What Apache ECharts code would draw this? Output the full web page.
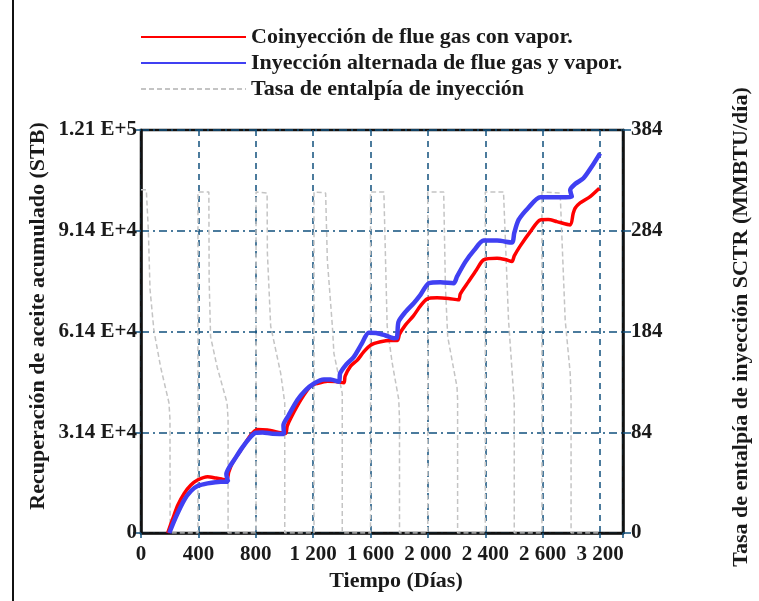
<!DOCTYPE html>
<html>
<head>
<meta charset="utf-8">
<script src="https://cdn.jsdelivr.net/npm/echarts@6/dist/echarts.min.js"></script>
<style>
  html, body { margin: 0; padding: 0; background: #ffffff; }
  #chart { width: 759px; height: 601px; }
</style>
</head>
<body>
<div id="chart"></div>
<script>
// Cumulative oil recovery (STB) vs time (days)
const redDays = [186,223,257,301,348,394,464,522,570,598,612,640,696,765,812,881,974,1009,1019,1044,1113,1183,1229,1299,1357,1414,1423,1461,1508,1551,1600,1670,1739,1788,1802,1844,1899,1948,1995,2064,2143,2214,2226,2282,2338,2388,2482,2539,2586,2602,2644,2713,2783,2838,2899,2992,3012,3026,3061,3131,3195];
const redStb  = [0,4500,8400,11900,14400,15900,16900,16500,16100,15900,18300,21300,24900,29400,31100,30900,30100,29900,32100,34500,39900,44100,44900,45600,45500,45100,47100,50100,51900,54300,56400,57400,57800,57800,59700,62500,65200,68200,70300,70600,70400,70000,71800,75400,79000,82000,82500,82100,81500,83200,86200,90400,94000,94100,93500,92500,95800,97500,99100,101000,103500];

const blueDays = [197,243,301,348,394,464,557,607,595,612,649,703,765,800,849,904,997,993,1030,1090,1148,1206,1275,1322,1380,1388,1433,1484,1537,1588,1647,1704,1762,1784,1795,1844,1901,1948,2006,2087,2180,2203,2261,2324,2388,2482,2586,2602,2632,2699,2783,2899,3003,2992,3026,3084,3145,3200];
const blueStb  = [0,4800,9900,12600,14100,14900,15400,15400,17700,19500,21900,25500,28900,30100,30200,29900,29700,32400,35400,39900,42900,44900,46100,46100,45400,47900,50700,52900,56700,60100,60000,59300,58500,58700,63400,66400,69000,71500,75000,75300,75000,77000,81400,85000,87800,87800,87200,90100,94000,97600,100800,100800,101000,103000,104800,106500,110200,114000];

// Injection enthalpy rate (MMBTU/day)
const rateDays   = [0,37,51,63,90,137,195,202,203,397,397,473,475,485,531,600,607,607,802,802,879,881,904,974,1002,1002,1206,1206,1287,1299,1334,1345,1403,1403,1600,1600,1693,1716,1751,1797,1802,1802,1999,1999,2110,2122,2138,2203,2207,2207,2400,2400,2527,2562,2602,2602,2795,2795,2922,2957,2992,2998,2998,3200];
const rateValues = [327,327,289,232,193,158,124,108,0,0,325,325,241,187,158,124,108,0,0,325,324,267,197,152,124,0,0,325,324,260,197,171,133,0,0,325,325,197,162,127,108,0,0,325,325,235,187,139,127,0,0,325,325,203,124,0,0,325,324,203,152,127,0,0];

// Tick labels
const xTickLabels = ['0','400','800','1 200','1 600','2 000','2 400','2 600','3 200'];
const leftTickLabels = ['0','3.14 E+4','6.14 E+4','9.14 E+4','1.21 E+5'];
const rightTickLabels = ['0','84','184','284','384'];

const seriesNames = ['Coinyección de flue gas con vapor.', 'Inyección alternada de flue gas y vapor.', 'Tasa de entalpía de inyección'];

const zip = (a, b) => a.map((v, i) => [v, b[i]]);

const FONT = "'Liberation Serif', 'Times New Roman', serif";
const TXT = '#1a1a1a';
const GRID_BLUE = '#10507e';
const DASH_DOT = [8, 4, 2, 4];

const chart = echarts.init(document.getElementById('chart'), null, { renderer: 'canvas' });

const labelFrom = (arr, step) => (v) => {
  const k = v / step;
  const i = Math.round(k);
  return Math.abs(k - i) < 1e-6 && arr[i] !== undefined ? arr[i] : '';
};

chart.setOption({
  animation: false,
  backgroundColor: '#ffffff',
  grid: {
    left: 141, right: 136, top: 130, bottom: 68,
    show: true, borderColor: '#111111', borderWidth: 2.5, backgroundColor: 'transparent'
  },
  legend: {
    data: seriesNames,
    orient: 'vertical',
    left: 135, top: 21,
    itemWidth: 105, itemHeight: 14, itemGap: 4,
    itemStyle: { color: 'transparent', borderColor: 'transparent', borderWidth: 0 },
    textStyle: { fontFamily: FONT, fontWeight: 'bold', fontSize: 22, color: TXT }
  },
  xAxis: {
    type: 'value', min: 0, max: 3360, interval: 400,
    axisLine: { show: true, lineStyle: { color: '#111111', width: 2.5 } },
    axisTick: { show: true, length: 8, lineStyle: { color: GRID_BLUE, width: 1.5, type: [5, 4] } },
    splitLine: { show: true, lineStyle: { color: GRID_BLUE, width: 1.5, type: [6, 5] } },
    axisLabel: {
      margin: 11, fontFamily: FONT, fontWeight: 'bold', fontSize: 21, color: TXT,
      formatter: labelFrom(xTickLabels, 400)
    }
  },
  yAxis: [
    {
      type: 'value', min: 0, max: 121000, interval: 30250, position: 'left',
      axisLine: { show: true, lineStyle: { color: '#111111', width: 2.5 } },
      axisTick: { show: true, length: 12, lineStyle: { color: GRID_BLUE, width: 1.5, type: DASH_DOT } },
      splitLine: { show: true, lineStyle: { color: GRID_BLUE, width: 1.5, type: DASH_DOT } },
      axisLabel: {
        margin: 4, fontFamily: FONT, fontWeight: 'bold', fontSize: 21, color: TXT,
        formatter: labelFrom(leftTickLabels, 30250)
      }
    },
    {
      type: 'value', min: 0, max: 384, interval: 96, position: 'right',
      axisLine: { show: true, lineStyle: { color: '#111111', width: 2.5 } },
      axisTick: { show: true, length: 10, lineStyle: { color: GRID_BLUE, width: 1.5, type: DASH_DOT } },
      splitLine: { show: false },
      axisLabel: {
        margin: 8, fontFamily: FONT, fontWeight: 'bold', fontSize: 21, color: TXT,
        formatter: labelFrom(rightTickLabels, 96)
      }
    }
  ],
  series: [
    {
      name: seriesNames[0], type: 'line', yAxisIndex: 0, z: 3,
      data: zip(redDays, redStb), showSymbol: false, symbol: 'none', smooth: 0.25,
      lineStyle: { color: '#ff0000', width: 3.5 }, itemStyle: { color: '#ff0000' }
    },
    {
      name: seriesNames[1], type: 'line', yAxisIndex: 0, z: 4,
      data: zip(blueDays, blueStb), showSymbol: false, symbol: 'none', smooth: 0.25,
      lineStyle: { color: '#4040f2', width: 4.5 }, itemStyle: { color: '#4040f2' }
    },
    {
      name: seriesNames[2], type: 'line', yAxisIndex: 1, z: 2,
      data: zip(rateDays, rateValues), showSymbol: false, symbol: 'none', smooth: false,
      lineStyle: { color: '#c4c4c4', width: 1.5, type: [5, 3] }, itemStyle: { color: '#c4c4c4' }
    }
  ],
  graphic: [
    { type: 'line', shape: { x1: 13, y1: 0, x2: 13, y2: 601 }, style: { stroke: '#111111', lineWidth: 2 } },
    {
      type: 'text', x: 38, y: 316, rotation: Math.PI / 2,
      style: { text: 'Recuperación de aceite acumulado (STB)', fontFamily: FONT, fontWeight: 'bold', fontSize: 22, fill: TXT, textAlign: 'center', textVerticalAlign: 'middle' }
    },
    {
      type: 'text', x: 741, y: 327, rotation: Math.PI / 2,
      style: { text: 'Tasa de entalpía de inyección SCTR (MMBTU/día)', fontFamily: FONT, fontWeight: 'bold', fontSize: 22, fill: TXT, textAlign: 'center', textVerticalAlign: 'middle' }
    },
    {
      type: 'text', x: 396, y: 581,
      style: { text: 'Tiempo (Días)', fontFamily: FONT, fontWeight: 'bold', fontSize: 22, fill: TXT, textAlign: 'center', textVerticalAlign: 'middle' }
    }
  ]
});
</script>
</body>
</html>
